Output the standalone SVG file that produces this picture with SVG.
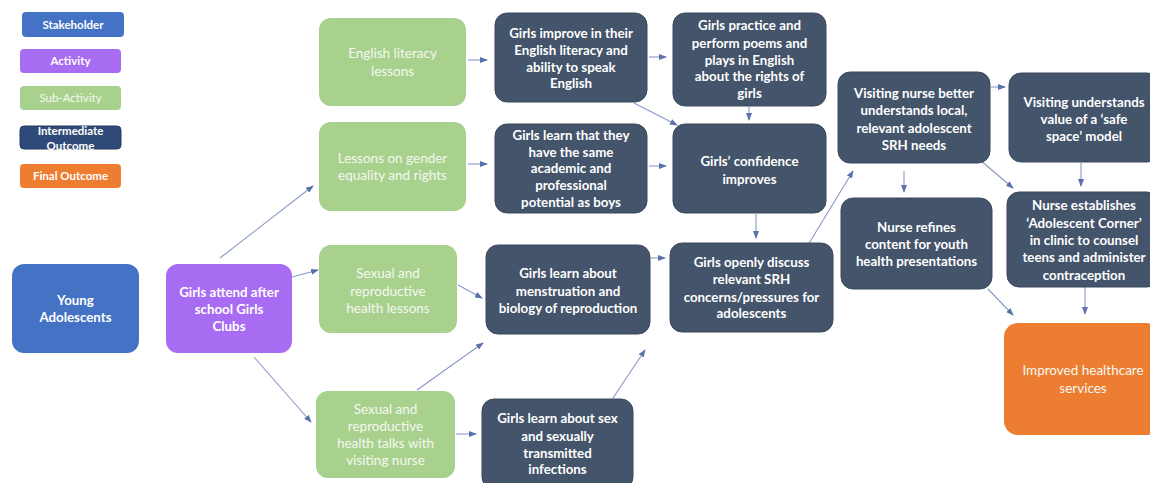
<svg xmlns="http://www.w3.org/2000/svg" width="1150" height="483" viewBox="0 0 1150 483">
  <defs>
    <style>
      .stake { fill: #4472C4; }
      .act { fill: #A86CF2; }
      .sub { fill: #A9D18E; }
      .mid { fill: #44546A; stroke: #3B495D; stroke-width: 1; }
      .fin { fill: #ED7D31; }
      text { font-family: Lato, "Open Sans", "Liberation Sans", sans-serif; text-anchor: middle; }
      .t { font-size: 13.3px; font-weight: bold; fill: #FFFFFF; }
      .tl { font-size: 13.5px; font-weight: normal; fill: #F4F8F0; }
      .lg { font-size: 11.5px; font-weight: bold; fill: #FFFFFF; }
      .lgl { font-size: 11.5px; font-weight: normal; fill: #F4F8F0; }
      .conn { stroke: #8799C6; stroke-width: 1.1; fill: none; marker-end: url(#arrow); }
    </style>
    <marker id="arrow" markerUnits="userSpaceOnUse" markerWidth="8" markerHeight="6" refX="7" refY="3" orient="auto">
      <path d="M0,0 L8,3 L0,6 z" fill="#5A72AA"/>
    </marker>
  </defs>

  <rect width="1150" height="483" fill="#FFFFFF"/>

  <!-- Legend -->
  <g id="legend">
    <rect class="stake" x="22" y="12" width="102" height="25" rx="4"/>
    <text class="lg" x="73" y="28.5">Stakeholder</text>
    <rect class="act" x="20" y="49" width="101" height="24" rx="4"/>
    <text class="lg" x="70.5" y="65">Activity</text>
    <rect class="sub" x="20" y="86" width="101" height="24" rx="4"/>
    <text class="lgl" x="70.5" y="102">Sub-Activity</text>
    <rect x="20" y="126" width="101" height="23" rx="4" fill="#2F4A78" stroke="#263C63"/>
    <text class="lg" x="70.5" y="135">Intermediate</text>
    <text class="lg" x="70.5" y="150">Outcome</text>
    <rect class="fin" x="20" y="164" width="101" height="24" rx="4"/>
    <text class="lg" x="70.5" y="180" fill="#FCEBD6">Final Outcome</text>
  </g>

  <!-- Connectors -->
  <g id="connectors">
    <path class="conn" d="M220,258 L313,186"/>
    <path class="conn" d="M292,277 L318,270"/>
    <path class="conn" d="M254,357 L311,422"/>
    <path class="conn" d="M468,60 L487,60"/>
    <path class="conn" d="M468,164 L487,164"/>
    <path class="conn" d="M649,57 L666,57"/>
    <path class="conn" d="M634,103 L677,125"/>
    <path class="conn" d="M649,166 L666,166"/>
    <path class="conn" d="M749,107 L749,120"/>
    <path class="conn" d="M756,214 L756,238"/>
    <path class="conn" d="M651,258 L665,258"/>
    <path class="conn" d="M458,285 L482,298"/>
    <path class="conn" d="M417,390 L483,343"/>
    <path class="conn" d="M456,434 L476,434"/>
    <path class="conn" d="M613,398 L645,350"/>
    <path class="conn" d="M808,245 L853,171"/>
    <path class="conn" d="M991,87 L1005,87"/>
    <path class="conn" d="M904,171 L904,192"/>
    <path class="conn" d="M980,160 L1013,188"/>
    <path class="conn" d="M1081,163 L1081,186"/>
    <path class="conn" d="M988,289 L1013,315"/>
    <path class="conn" d="M1085,287 L1085,314"/>
  </g>

  <!-- Stakeholder -->
  <g id="young-adolescents">
    <rect class="stake" x="12" y="264" width="127" height="89" rx="12"/>
    <text class="t" x="75.5" y="305">Young</text>
    <text class="t" x="75.5" y="322">Adolescents</text>
  </g>

  <!-- Activity -->
  <g id="girls-clubs">
    <rect class="act" x="166" y="264" width="126" height="89" rx="12"/>
    <text class="t" x="229" y="297">Girls attend after</text>
    <text class="t" x="229" y="314">school Girls</text>
    <text class="t" x="229" y="331">Clubs</text>
  </g>

  <!-- Sub-activities -->
  <g id="english-lessons">
    <rect class="sub" x="319" y="18" width="147" height="88" rx="12"/>
    <text class="tl" x="392.5" y="58">English literacy</text>
    <text class="tl" x="392.5" y="76">lessons</text>
  </g>
  <g id="gender-lessons">
    <rect class="sub" x="319" y="122" width="147" height="89" rx="12"/>
    <text class="tl" x="392.5" y="163">Lessons on gender</text>
    <text class="tl" x="392.5" y="180">equality and rights</text>
  </g>
  <g id="srh-lessons">
    <rect class="sub" x="319" y="245" width="138" height="88" rx="12"/>
    <text class="tl" x="388" y="278">Sexual and</text>
    <text class="tl" x="388" y="295.5">reproductive</text>
    <text class="tl" x="388" y="313">health lessons</text>
  </g>
  <g id="srh-talks">
    <rect class="sub" x="316" y="391" width="139" height="87" rx="12"/>
    <text class="tl" x="385.5" y="414">Sexual and</text>
    <text class="tl" x="385.5" y="431">reproductive</text>
    <text class="tl" x="385.5" y="448">health talks with</text>
    <text class="tl" x="385.5" y="465">visiting nurse</text>
  </g>

  <!-- Intermediate outcomes -->
  <g id="english-improve">
    <rect class="mid" x="495" y="13" width="152" height="89" rx="12"/>
    <text class="t" x="571" y="38">Girls improve in their</text>
    <text class="t" x="571" y="55">English literacy and</text>
    <text class="t" x="571" y="72">ability to speak</text>
    <text class="t" x="571" y="88">English</text>
  </g>
  <g id="same-potential">
    <rect class="mid" x="495" y="124" width="152" height="89" rx="12"/>
    <text class="t" x="571" y="140">Girls learn that they</text>
    <text class="t" x="571" y="157">have the same</text>
    <text class="t" x="571" y="173">academic and</text>
    <text class="t" x="571" y="190">professional</text>
    <text class="t" x="571" y="207">potential as boys</text>
  </g>
  <g id="poems-plays">
    <rect class="mid" x="673" y="13" width="153" height="93" rx="12"/>
    <text class="t" x="749.5" y="30">Girls practice and</text>
    <text class="t" x="749.5" y="47.5">perform poems and</text>
    <text class="t" x="749.5" y="64.5">plays in English</text>
    <text class="t" x="749.5" y="81">about the rights of</text>
    <text class="t" x="749.5" y="98">girls</text>
  </g>
  <g id="confidence">
    <rect class="mid" x="673" y="124" width="153" height="89" rx="12"/>
    <text class="t" x="749.5" y="166">Girls’ confidence</text>
    <text class="t" x="749.5" y="183.5">improves</text>
  </g>
  <g id="menstruation">
    <rect class="mid" x="486" y="245" width="164" height="89" rx="12"/>
    <text class="t" x="568" y="278">Girls learn about</text>
    <text class="t" x="568" y="296">menstruation and</text>
    <text class="t" x="568" y="313">biology of reproduction</text>
  </g>
  <g id="sex-sti">
    <rect class="mid" x="482" y="399" width="151" height="90" rx="12"/>
    <text class="t" x="557.5" y="423">Girls learn about sex</text>
    <text class="t" x="557.5" y="440.5">and sexually</text>
    <text class="t" x="557.5" y="457.5">transmitted</text>
    <text class="t" x="557.5" y="474">infections</text>
  </g>
  <g id="discuss-srh">
    <rect class="mid" x="670" y="243" width="163" height="89" rx="12"/>
    <text class="t" x="751.5" y="267">Girls openly discuss</text>
    <text class="t" x="751.5" y="284">relevant SRH</text>
    <text class="t" x="751.5" y="301.5">concerns/pressures for</text>
    <text class="t" x="751.5" y="318">adolescents</text>
  </g>
  <g id="nurse-understands">
    <rect class="mid" x="838" y="72" width="152" height="91" rx="12"/>
    <text class="t" x="914" y="98">Visiting nurse better</text>
    <text class="t" x="914" y="115">understands local,</text>
    <text class="t" x="914" y="132.5">relevant adolescent</text>
    <text class="t" x="914" y="150">SRH needs</text>
  </g>
  <g id="safe-space">
    <rect class="mid" x="1009" y="73" width="150" height="89" rx="12"/>
    <text class="t" x="1084" y="107">Visiting understands</text>
    <text class="t" x="1084" y="124">value of a ‘safe</text>
    <text class="t" x="1084" y="141">space’ model</text>
  </g>
  <g id="nurse-refines">
    <rect class="mid" x="841" y="198" width="151" height="91" rx="12"/>
    <text class="t" x="916.5" y="232">Nurse refines</text>
    <text class="t" x="916.5" y="249">content for youth</text>
    <text class="t" x="916.5" y="266">health presentations</text>
  </g>
  <g id="adolescent-corner">
    <rect class="mid" x="1007" y="192" width="152" height="95" rx="12"/>
    <text class="t" x="1084" y="210">Nurse establishes</text>
    <text class="t" x="1084" y="228">‘Adolescent Corner’</text>
    <text class="t" x="1084" y="245">in clinic to counsel</text>
    <text class="t" x="1084" y="262">teens and administer</text>
    <text class="t" x="1084" y="280">contraception</text>
  </g>

  <!-- Final outcome -->
  <g id="improved-services">
    <rect class="fin" x="1004" y="323" width="156" height="112" rx="14"/>
    <text class="tl" x="1083" y="375" fill="#FCEBD6">Improved healthcare</text>
    <text class="tl" x="1083" y="393" fill="#FCEBD6">services</text>
  </g>
</svg>
